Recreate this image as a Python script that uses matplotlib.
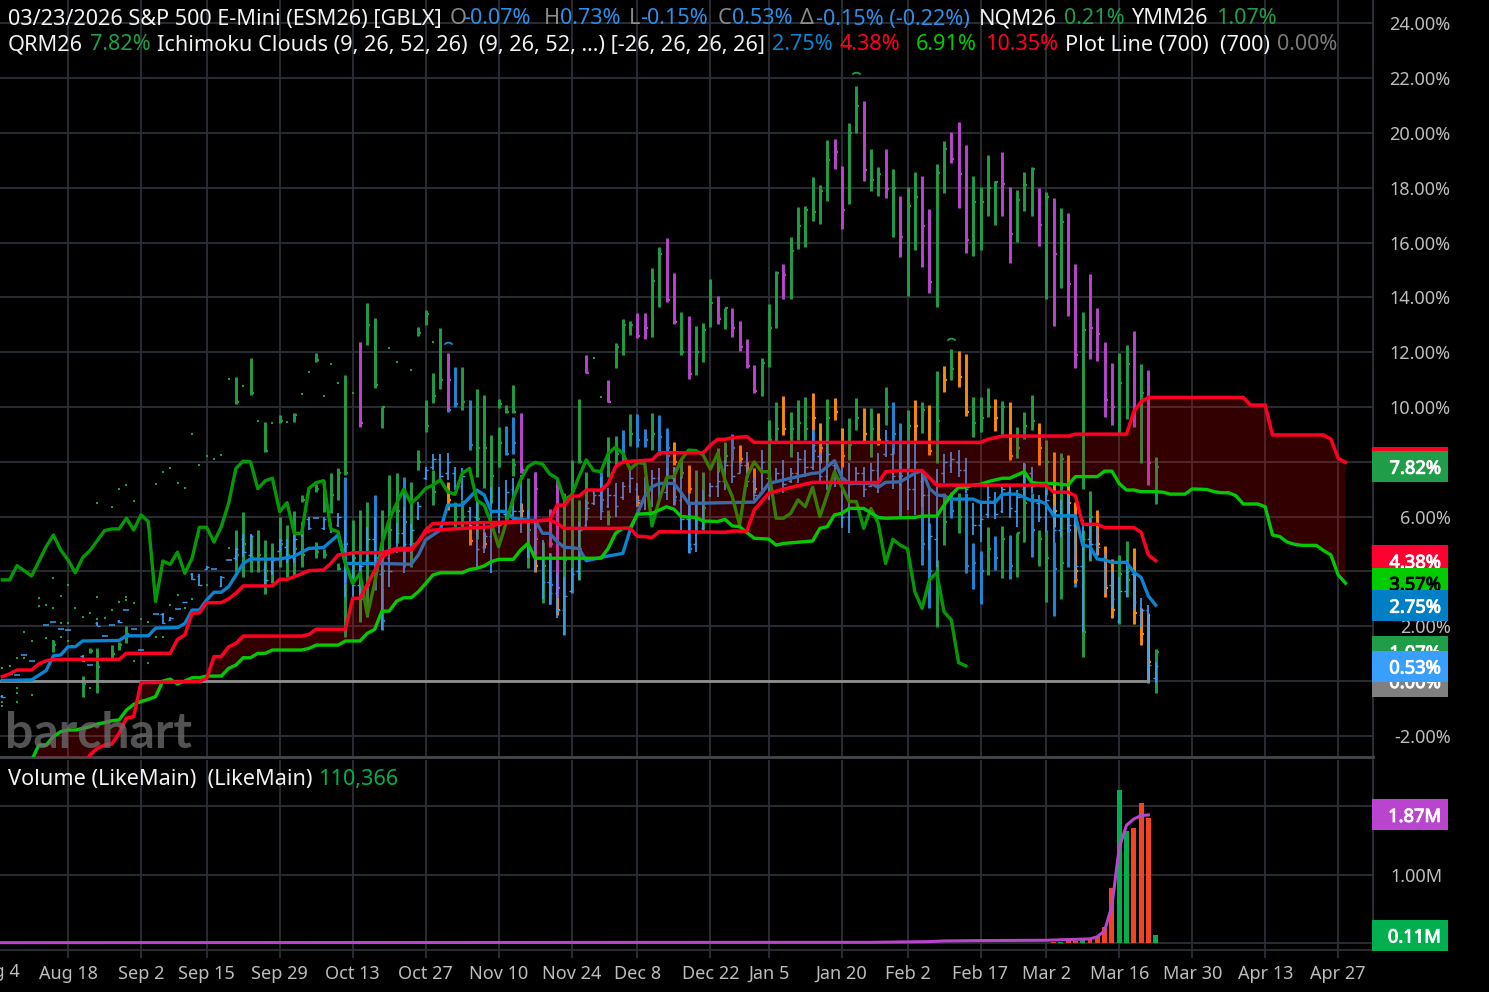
import matplotlib
matplotlib.use("Agg")
import matplotlib.pyplot as plt
import matplotlib.patheffects as pe
from matplotlib.patches import Rectangle
from matplotlib.path import Path
from matplotlib.transforms import blended_transform_factory

plt.rcParams['font.family'] = ['Noto Sans', 'DejaVu Sans']

# x axis = trading bar number, Aug 18 is bar 0
date_ticks = [0, 10, 19, 29, 39, 49, 59, 69, 78, 88, 96, 106, 115, 125, 134, 144, 154, 164, 174]
date_labels = ['Aug 18', 'Sep 2', 'Sep 15', 'Sep 29', 'Oct 13', 'Oct 27', 'Nov 10', 'Nov 24', 'Dec 8', 'Dec 22',
               'Jan 5', 'Jan 20', 'Feb 2', 'Feb 17', 'Mar 2', 'Mar 16', 'Mar 30', 'Apr 13', 'Apr 27']
pct_ticks = [-2, 0, 2, 4, 6, 8, 10, 12, 14, 16, 18, 20, 22, 24]
pct_hidden = [0, 4, 8]  # these sit behind the value tags

# bars as (bar, high, low, close)
green_bars = [
    (-2, 1.50, 1.07, 1.3), (2, .18, -.57, -.1), (3, 1.19, 1.03, 1.1), (4, 1.22, -.43, .5), (6, 1.31, .83, 1.0),
    (7, 1.44, 1.13, 1.3), (8, 2.0, 1.37, 1.7), (23, 11.08, 10.10, 10.2), (25, 11.78, 10.44, 10.5),
    (27, 9.46, 8.37, 8.4), (29, 9.71, 9.40, 9.5), (31, 9.77, 9.46, 9.7), (34, 11.96, 11.65, 11.7),
    (23, 5.51, 3.99, 4.6), (24, 6.16, 3.81, 5.0), (25, 5.33, 3.99, 4.5), (26, 5.5, 3.99, 4.6), (27, 5.15, 3.18, 4.0),
    (28, 5.02, 3.56, 4.4), (29, 6.0, 4.17, 5.0), (30, 5.69, 3.81, 4.6), (31, 6.22, 3.87, 4.8), (32, 6.79, 6.55, 6.6),
    (32, 5.5, 4.17, 4.6), (34, 7.2, 6.9, 7.0), (34, 5.08, 4.5, 4.7), (35, 7.3, 6.15, 6.6), (35, 4.8, 4.5, 4.6),
    (36, 7.58, 6.12, 6.8), (37, 7.76, 6.6, 7.6), (37, 4.29, 4.04, 4.1), (38, 11.17, 7.52, 7.6), (38, 3.56, 1.62, 2.0),
    (39, 5.88, 3.56, 4.5), (40, 6.24, 2.17, 3.0), (41, 13.78, 12.26, 13.0), (41, 6.55, 2.35, 3.5),
    (42, 13.24, 10.68, 10.8), (43, 10.01, 9.22, 10.0), (43, 6.24, 3.44, 4.0), (44, 7.52, 4.66, 5.5),
    (45, 7.58, 5.02, 6.2), (47, 7.27, 4.17, 5.0), (48, 12.93, 12.59, 12.7), (48, 8.43, 7.70, 8.0),
    (49, 13.54, 12.99, 13.4), (49, 10.26, 9.10, 9.3), (50, 11.23, 10.13, 10.4), (50, 7.70, 6.42, 6.9),
    (51, 12.87, 10.64, 11.0), (53, 6.55, 5.63, 6.0), (54, 11.47, 9.89, 10.2), (54, 6.6, 5.63, 6.0),
    (56, 10.64, 7.46, 8.5), (56, 6.6, 5.2, 5.9), (57, 10.44, 7.03, 8.5), (58, 8.98, 6.48, 7.5), (59, 10.3, 9.95, 10.1),
    (59, 9.28, 7.82, 8.7), (60, 10.07, 9.77, 9.8), (61, 10.80, 9.77, 9.8), (61, 8.13, 7.47, 7.9), (63, 7.40, 4.14, 5.5),
    (65, 5.09, 2.86, 4.2), (68, 6.85, 1.68, 4.4), (69, 8.07, 3.2, 4.8), (70, 10.29, 7.94, 8.0), (70, 6.6, 3.69, 4.8),
    (71, 7.64, 5.88, 6.5), (74, 8.89, 7.46, 8.0), (74, 6.24, 5.69, 6.0), (75, 8.94, 7.88, 8.3), (75, 12.32, 11.41, 12.2),
    (76, 13.20, 11.90, 13.0), (77, 13.15, 12.63, 13.0), (77, 9.73, 8.59, 9.0), (80, 15.06, 12.57, 14.6),
    (80, 9.77, 8.43, 9.0), (81, 15.83, 13.64, 15.6), (82, 9.04, 7.46, 8.2), (84, 13.48, 11.90, 12.0), (84, 8.13, 7.4, 7.6),
    (86, 12.96, 11.17, 12.0), (86, 7.7, 5.4, 6.5), (87, 13.08, 11.63, 12.8), (87, 7.64, 5.5, 6.3),
    (88, 14.66, 12.91, 13.8), (89, 8.49, 7.64, 8.0), (90, 13.63, 12.83, 13.6), (90, 8.73, 7.94, 8.2),
    (95, 11.78, 10.41, 11.6), (96, 13.76, 11.47, 12.9), (96, 9.53, 7.46, 8.8), (97, 14.98, 12.90, 14.9),
    (97, 10.19, 8.67, 9.2), (99, 16.19, 13.95, 15.7), (99, 9.83, 8.19, 9.2), (100, 17.29, 15.75, 16.6),
    (100, 10.25, 8.80, 9.4), (101, 17.34, 15.83, 17.2), (101, 10.38, 8.80, 9.2), (102, 18.41, 16.80, 17.1),
    (103, 18.09, 16.68, 17.9), (104, 19.74, 17.52, 19.0), (104, 10.28, 8.0, 9.6), (107, 20.35, 17.40, 20.0),
    (107, 9.59, 8.07, 8.6), (108, 21.73, 19.99, 21.0), (108, 10.32, 9.16, 9.6), (110, 19.42, 17.89, 18.3),
    (110, 9.95, 8.19, 9.2), (111, 18.77, 17.71, 18.5), (112, 10.74, 9.34, 10.0), (113, 18.69, 16.22, 18.0),
    (115, 18.02, 14.06, 17.35), (115, 9.89, 7.76, 9.3), (116, 18.59, 15.73, 17.65), (117, 10.19, 9.04, 9.9),
    (119, 18.86, 13.66, 18.55), (119, 11.31, 7.94, 9.5), (119, 4.42, 1.98, 3.5), (120, 19.71, 17.80, 19.4),
    (120, 6.85, 4.96, 5.8), (121, 12.1, 10.98, 11.4), (122, 6.85, 5.39, 6.0), (124, 18.44, 15.52, 17.5),
    (124, 10.35, 8.92, 9.4), (125, 18.04, 15.73, 17.5), (125, 10.35, 9.10, 9.6), (126, 19.20, 16.97, 18.0),
    (126, 10.68, 9.65, 10.0), (126, 5.63, 3.87, 4.8), (127, 18.25, 16.64, 18.2), (128, 10.23, 8.98, 10.0),
    (128, 5.66, 3.75, 5.2), (130, 17.92, 16.03, 17.55), (130, 9.28, 8.13, 8.5), (130, 5.41, 3.81, 5.4),
    (131, 18.56, 17.17, 18.1), (131, 9.81, 8.83, 9.3), (131, 7.94, 5.09, 6.5), (132, 18.77, 16.97, 18.7),
    (132, 10.44, 9.16, 9.5), (133, 5.51, 4.20, 5.2), (134, 17.86, 13.93, 17.65), (134, 8.80, 6.79, 8.0),
    (134, 5.51, 2.90, 4.5), (136, 17.25, 14.35, 16.75), (136, 8.33, 5.5, 8.1), (136, 5.51, 2.99, 4.3),
    (139, 13.45, 7.0, 12.8), (139, 5.5, 0.89, 1.8), (140, 6.93, 4.38, 6.0), (144, 11.96, 9.06, 10.86),
    (144, 4.60, 2.07, 3.9), (145, 12.25, 9.55, 11.57), (145, 5.12, 3.08, 3.7), (147, 11.56, 7.97, 10.50),
    (149, 8.19, 6.45, 7.82), (149, 1.16, -.43, 1.07),
]
purple_bars = [
    (40, 12.38, 9.28, 9.4), (52, 11.96, 9.89, 11.0), (62, 9.77, 7.58, 7.7), (64, 7.64, 4.48, 5.2), (66, 6.27, 4.9, 5.0),
    (67, 7.34, 3.08, 3.4), (71, 11.90, 11.23, 11.25), (74, 10.99, 10.19, 10.2), (78, 13.42, 12.51, 12.6),
    (79, 13.42, 12.47, 12.9), (82, 16.16, 13.84, 13.9), (83, 14.88, 13.02, 13.1), (85, 13.33, 11.02, 11.2),
    (89, 14.06, 13.03, 13.2), (91, 13.63, 12.54, 12.9), (92, 13.15, 12.06, 12.2), (93, 12.48, 11.41, 11.5),
    (94, 11.53, 10.52, 10.6), (98, 15.21, 13.95, 14.8), (105, 19.77, 18.69, 19.3), (106, 18.80, 16.51, 17.2),
    (109, 21.18, 18.26, 18.65), (112, 19.42, 17.62, 17.95), (114, 17.70, 15.49, 16.2), (117, 18.43, 15.10, 16.6),
    (118, 17.21, 14.15, 14.55), (121, 20.05, 18.89, 19.05), (122, 20.41, 17.25, 18.5), (123, 19.55, 15.61, 16.1),
    (128, 19.32, 16.97, 18.15), (129, 18.02, 15.27, 16.3), (133, 17.99, 15.89, 16.65), (135, 17.62, 12.97, 15.6),
    (137, 17.07, 13.33, 14.5), (138, 15.21, 11.41, 11.9), (140, 14.85, 11.75, 12.9), (141, 13.60, 11.68, 12.65),
    (142, 12.38, 9.65, 10.25), (143, 11.62, 9.34, 10.0), (146, 12.77, 9.26, 10.0), (148, 11.35, 7.15, 7.97),
]
orange_bars = [
    (52, 7.27, 6.24, 6.6), (55, 5.69, 4.96, 5.1), (57, 5.45, 4.84, 5.0), (62, 6.5, 6.0, 6.2), (64, 4.5, 3.99, 4.2),
    (67, 3.08, 2.4, 2.6), (78, 6.8, 6.4, 6.5), (83, 8.73, 7.9, 8.0), (85, 7.9, 6.85, 7.0), (92, 8.6, 7.94, 8.1),
    (93, 8.0, 7.46, 7.6), (94, 7.76, 6.85, 7.0), (98, 10.41, 8.98, 9.2), (102, 10.50, 9.16, 9.6), (103, 9.43, 7.94, 8.5),
    (105, 10.32, 9.53, 9.8), (106, 9.22, 7.82, 8.2), (109, 9.95, 8.67, 9.0), (111, 9.79, 8.61, 8.8),
    (116, 10.26, 8.67, 9.3), (118, 10.07, 8.25, 8.4), (120, 11.50, 10.56, 11.0), (122, 12.04, 10.74, 11.1),
    (123, 11.92, 9.67, 9.8), (127, 10.28, 9.12, 9.6), (129, 10.19, 8.07, 8.2), (133, 9.40, 7.88, 8.5),
    (135, 8.37, 5.63, 6.2), (137, 8.25, 6.1, 6.5), (138, 6.55, 3.56, 4.0), (141, 6.24, 4.60, 5.0), (142, 4.93, 3.08, 3.4),
    (143, 4.45, 2.29, 2.6), (146, 4.84, 2.07, 2.5), (147, 2.65, 1.31, 1.7), (148, 2.47, -.09, .7),
]
blue_bars = [
    (38, 7.46, 3.56, 5.0), (42, 6.79, 3.32, 4.5), (43, 3.44, 1.86, 2.2), (46, 7.46, 4.17, 5.8), (52, 10.4, 9.82, 9.9),
    (53, 11.47, 10.01, 10.1), (55, 10.26, 8.43, 8.6), (60, 9.29, 8.26, 8.3), (61, 9.62, 8.28, 8.7), (64, 7.64, 6.84, 7.0),
    (66, 4.66, 2.81, 3.5), (73, 7.61, 6.24, 6.6), (76, 9.16, 7.94, 8.2), (78, 9.73, 8.53, 8.8), (79, 9.19, 8.55, 8.8),
    (81, 9.71, 8.25, 8.9), (82, 9.22, 7.46, 8.5), (83, 7.82, 6.42, 6.7), (85, 6.48, 4.66, 4.8), (91, 9.0, 8.07, 8.5),
    (102, 9.16, 8.0, 8.4), (113, 10.2, 8.3, 9.0), (114, 9.4, 6.0, 7.5), (117, 7.70, 4.23, 5.0), (118, 5.75, 2.65, 4.0),
    (121, 6.9, 5.94, 6.2), (123, 6.85, 3.93, 4.2), (124, 5.05, 3.35, 4.3), (125, 4.76, 2.81, 4.0), (127, 5.30, 4.05, 4.5),
    (129, 5.33, 3.72, 4.2), (132, 6.85, 4.54, 5.5), (135, 5.09, 2.37, 4.1), (137, 6.85, 4.17, 5.5), (138, 4.17, 3.42, 3.7),
]
# thin main contract bars: (bar, high, low, open, close)
es_bars = [
    (-9, -.5, -.63, -.55, -.58), (2, .95, .7, .9, .72), (4, 2.14, 2.0, 2.1, 2.02), (7, 2.22, 2.12, 2.2, 2.14),
    (13, 2.49, 2.08, 2.45, 2.12), (14, 2.35, 2.2, 2.22, 2.3), (16, 2.9, 2.85, 2.87, 2.88), (17, 3.93, 3.69, 3.9, 3.72),
    (18, 3.9, 3.47, 3.85, 3.5), (19, 4.2, 4.07, 4.1, 4.17), (21, 3.83, 3.42, 3.45, 3.8), (23, 4.84, 4.42, 4.5, 4.8),
    (24, 5.35, 4.54, 5.2, 4.7), (25, 5.35, 4.54, 4.6, 5.3), (27, 4.29, 3.5, 4.1, 3.7), (28, 4.54, 3.87, 4.0, 4.4),
    (29, 5.2, 4.72, 4.75, 5.15), (30, 5.2, 4.29, 4.9, 4.5), (31, 5.33, 4.29, 4.5, 5.2), (32, 5.82, 5.27, 5.4, 5.7),
    (33, 6.0, 5.51, 5.9, 5.6), (35, 6.0, 5.51, 5.6, 5.9), (36, 5.78, 5.4, 5.7, 5.5), (37, 6.12, 5.63, 5.7, 6.0),
    (38, 5.88, 3.08, 5.0, 4.3), (39, 4.62, 2.96, 4.3, 3.5), (40, 4.29, 2.96, 3.5, 4.2), (41, 5.63, 4.29, 4.4, 5.2),
    (42, 6.0, 3.56, 5.2, 3.9), (43, 4.78, 1.86, 3.9, 4.5), (44, 4.84, 3.44, 4.5, 4.0), (45, 5.75, 4.66, 4.8, 5.4),
    (46, 6.36, 3.93, 5.4, 5.0), (47, 5.73, 4.66, 5.0, 5.5), (48, 6.55, 5.88, 6.0, 6.4), (49, 7.82, 7.34, 7.4, 7.7),
    (50, 8.28, 7.70, 7.8, 8.1), (51, 8.28, 7.34, 8.1, 7.5), (52, 8.33, 7.34, 7.6, 8.0), (53, 7.82, 6.97, 7.6, 7.1),
    (54, 7.76, 6.6, 7.1, 7.5), (55, 6.36, 5.51, 6.2, 5.7), (56, 6.6, 4.17, 6.0, 4.8), (57, 5.75, 4.66, 4.9, 5.3),
    (58, 7.09, 3.93, 5.3, 6.2), (59, 7.09, 5.39, 6.2, 5.7), (60, 7.34, 5.88, 6.1, 6.9), (61, 7.40, 5.88, 7.0, 6.2),
    (62, 7.52, 5.39, 6.2, 5.8), (63, 6.24, 4.48, 5.8, 4.9), (64, 5.88, 3.99, 4.9, 4.5), (65, 5.15, 3.0, 4.5, 3.6),
    (66, 4.66, 2.77, 3.6, 3.2), (67, 3.9, 2.29, 3.2, 2.6), (68, 3.8, 1.68, 2.6, 3.1), (69, 4.11, 3.2, 3.3, 3.9),
    (70, 5.82, 3.69, 4.0, 5.5), (71, 6.61, 5.57, 5.7, 6.3), (72, 6.97, 6.42, 6.5, 6.8), (73, 7.46, 5.88, 6.8, 6.2),
    (74, 7.03, 6.30, 6.4, 6.8), (75, 7.21, 6.0, 6.8, 6.4), (76, 7.27, 6.61, 6.7, 7.1), (77, 7.70, 6.85, 7.1, 7.4),
    (78, 7.21, 6.36, 7.0, 6.6), (79, 7.46, 6.24, 6.6, 7.1), (80, 7.70, 6.36, 7.1, 7.4), (81, 7.76, 6.61, 7.4, 6.9),
    (82, 7.76, 6.61, 6.9, 7.4), (83, 7.82, 6.42, 7.4, 6.6), (84, 7.46, 5.51, 6.6, 5.9), (85, 6.85, 4.66, 5.9, 5.0),
    (86, 6.61, 4.72, 5.0, 5.4), (87, 6.97, 5.51, 5.6, 6.5), (88, 7.21, 6.73, 6.8, 7.1), (89, 7.64, 6.73, 7.1, 7.3),
    (90, 8.07, 6.97, 7.3, 7.9), (91, 8.07, 7.21, 7.9, 7.5), (92, 8.0, 7.58, 7.6, 7.9), (93, 8.37, 7.09, 7.9, 7.3),
    (94, 7.46, 6.61, 7.3, 6.8), (95, 8.43, 6.85, 6.9, 8.0), (96, 7.64, 6.61, 7.4, 7.0), (97, 7.76, 7.21, 7.3, 7.6),
    (98, 8.07, 6.85, 7.6, 7.2), (99, 7.76, 7.21, 7.3, 7.6), (100, 8.37, 7.21, 7.6, 8.1), (101, 8.43, 7.46, 8.1, 7.8),
    (102, 9.16, 7.70, 7.8, 8.6), (103, 8.31, 7.21, 8.2, 7.5), (104, 8.80, 6.97, 7.5, 8.3), (105, 8.07, 7.09, 7.9, 7.4),
    (106, 7.82, 5.57, 7.4, 6.0), (107, 7.94, 5.39, 6.0, 7.2), (108, 7.82, 7.21, 7.3, 7.6), (109, 7.82, 6.73, 7.6, 7.0),
    (110, 7.94, 7.09, 7.1, 7.7), (111, 8.31, 6.85, 7.7, 7.3), (112, 9.16, 8.19, 8.3, 8.8), (113, 8.5, 7.0, 8.3, 7.5),
    (114, 8.0, 7.1, 7.5, 7.7), (115, 8.67, 6.24, 7.7, 7.0), (116, 8.70, 6.06, 7.0, 8.0), (117, 7.70, 6.36, 7.3, 6.8),
    (118, 7.03, 4.78, 6.8, 5.3), (119, 7.73, 4.17, 5.2, 7.2), (120, 8.28, 7.21, 7.6, 8.0), (121, 8.37, 7.58, 7.9, 8.1),
    (122, 8.43, 7.46, 8.0, 7.7), (123, 8.13, 6.85, 7.7, 7.0), (124, 6.48, 5.33, 6.0, 5.7), (125, 6.48, 5.09, 5.7, 5.9),
    (126, 7.15, 5.94, 6.1, 6.7), (127, 6.91, 5.90, 6.6, 6.1), (128, 7.19, 6.12, 6.2, 7.0), (129, 7.15, 5.94, 6.9, 6.3),
    (130, 6.97, 5.63, 6.2, 6.7), (131, 7.97, 6.73, 7.0, 7.6), (132, 7.80, 6.85, 7.6, 7.1), (133, 6.79, 5.81, 6.5, 6.0),
    (134, 6.97, 5.45, 6.0, 6.6), (135, 6.42, 5.02, 6.2, 5.5), (136, 6.61, 5.27, 5.5, 6.1), (137, 6.79, 5.45, 6.1, 5.7),
    (138, 6.0, 3.69, 5.7, 4.2), (139, 5.88, 1.80, 4.2, 5.2), (140, 5.94, 4.42, 5.2, 5.0), (141, 5.63, 4.42, 5.0, 4.9),
    (142, 4.66, 3.20, 4.5, 3.5), (143, 3.99, 2.71, 3.5, 3.0), (144, 3.81, 2.10, 2.2, 3.3), (145, 4.42, 3.08, 3.3, 4.0),
    (146, 3.99, 2.59, 3.9, 2.9), (147, 3.02, 1.98, 2.4, 2.6), (148, 2.77, -.02, 2.6, .6), (149, .71, -.09, .1, .53),
]
# flat bars early on, only one price traded
green_dots = [
    (-9, .49), (-9, -.75), (-9, -.91), (-8, .56), (-7, .83), (-7, -.27), (-7, -.45), (-7, -.75), (-6, 1.78), (-6, .83),
    (-5, 1.47), (-5, -.51), (-4, 3.02), (-4, 2.74), (-3, 2.77), (-3, 1.56), (-2, 3.75), (-2, 2.68), (-2, 1.47),
    (-1, 3.11), (-1, 2.1), (-1, 1.59), (0, 3.5), (0, 2.1), (0, 1.47), (1, 2.65), (2, 2.35), (3, 2.49), (3, -.27),
    (4, 6.51), (4, 3.08), (4, 2.26), (5, 2.29), (6, 6.36), (6, 2.59), (7, 7.0), (7, 2.9), (8, 7.14), (8, 3.08), (8, 2.96),
    (9, 6.57), (9, 2.83), (9, .73), (10, 2.26), (11, 2.17), (11, .64), (12, 7.19), (12, 1.62), (13, 7.62), (13, 1.62),
    (14, 7.79), (14, 2.77), (15, 7.24), (15, 3.14), (16, 7.03), (16, 2.65), (17, 9.01), (17, 2.98), (18, 7.88),
    (19, 8.21), (19, 3.5), (20, 8.09), (21, 8.25), (22, 11.03), (22, 4.84), (24, 10.78), (26, 9.49), (28, 9.43), (30, 9.46),
    (32, 10.46), (33, 11.27), (35, 10.40), (36, 11.57), (37, 10.86), (39, 10.52), (44, 12.17), (45, 11.65),
    (47, 11.35), (50, 12.38), (72, 11.78), (73, 10.35),
]
es_dots = [
    (-8, .25), (-7, .21), (-6, .96), (-5, .73), (-3, 2.03), (-2, 2.16), (-1, 1.88), (0, 1.86), (3, .58), (5, 1.64), (6, 2.06),
    (8, 2.59), (9, 1.89), (10, 1.13), (12, 2.46), (15, 2.64), (20, 4.07), (22, 4.41), (34, 5.96),
]
arc_bars = [52, 108, 121]
arc_vals = [12.2, 22.05, 12.35]
arc_colors = ['#1e88d8', '#1f9e46', '#1f9e46']

conv_x = [-9, -5, -3, -2, -1, 0, 1, 2, 7, 8, 11, 12, 15, 16, 17, 18, 19, 20, 21, 22, 24, 25, 29, 31, 33, 35, 37, 38, 43, 47,
          48, 49, 51, 52, 54, 56, 57, 58, 59, 60, 61, 62, 63, 64, 65, 66, 67, 68, 69, 70, 71, 73, 76, 77, 78, 79, 80, 81,
          83, 84, 85, 94, 95, 96, 98, 100, 102, 103, 105, 106, 107, 110, 111, 112, 114, 116, 117, 118, 119, 120, 121,
          123, 124, 125, 127, 128, 130, 131, 132, 133, 134, 135, 138, 139, 140, 141, 142, 143, 145, 146, 147, 148, 149]
conv_y = [.02, .04, .38, .92, .95, 1.25, 1.25, 1.46, 1.48, 1.65, 1.65, 1.93, 1.95, 2.10, 2.59, 2.59, 2.96, 3.24, 3.24, 3.44,
          4.29, 4.45, 4.45, 4.56, 4.84, 4.87, 5.33, 4.29, 4.29, 4.26, 4.6, 5.15, 5.51, 6.42, 6.42, 6.97, 6.79, 6.18, 6.2,
          6.18, 5.94, 5.9, 5.87, 5.87, 5.39, 5.39, 5.09, 4.87, 4.87, 4.83, 4.39, 4.51, 4.66, 5.51, 6.12, 6.73, 7.09, 7.21,
          7.21, 6.87, 6.48, 6.53, 6.85, 7.21, 7.34, 7.46, 7.58, 7.60, 8.04, 7.43, 7.21, 7.21, 7.07, 7.25, 7.27, 7.58, 7.68,
          7.03, 6.79, 6.76, 6.64, 6.64, 6.64, 6.52, 6.52, 6.82, 6.82, 6.70, 6.58, 6.58, 6.46, 6.03, 6.03, 4.96, 4.90, 4.45,
          4.42, 4.33, 4.33, 3.97, 3.78, 3.10, 2.77]
base_x = [-9, -8, -7, -5, -4, -3, -2, 7, 8, 14, 15, 16, 17, 18, 19, 21, 22, 23, 24, 28, 29, 30, 31, 32, 33, 35, 36, 37, 38, 39,
          43, 45, 47, 48, 49, 50, 59, 66, 67, 68, 77, 78, 80, 81, 90, 91, 93, 94, 96, 98, 102, 111, 112, 114, 117, 119, 134,
          135, 137, 138, 139, 141, 142, 146, 147, 148, 149]
base_y = [.16, .26, .40, .40, .62, .74, .79, .79, 1.01, 1.01, 1.52, 1.68, 2.47, 2.49, 2.86, 2.86, 3.0, 3.2, 3.47, 3.47, 3.71, 3.71,
          3.81, 3.91, 4.03, 4.05, 4.29, 4.60, 4.62, 4.68, 4.68, 4.84, 4.84, 5.09, 5.51, 5.75, 5.79, 5.88, 5.75, 5.57, 5.57, 5.29,
          5.24, 5.45, 5.43, 5.47, 5.47, 6.24, 6.85, 7.0, 7.25, 7.24, 7.64, 7.68, 7.68, 7.15, 7.15, 6.89, 6.89, 6.76, 5.72, 5.72,
          5.60, 5.60, 5.43, 4.60, 4.39]
lag_y = [3.69, 3.69, 4.21, 4.03, 3.83, 4.36, 4.90, 5.33, 4.78, 4.42, 3.95, 4.50, 4.76, 5.12, 5.49, 5.55, 5.55, 5.94, 5.51, 6.06,
         5.82, 2.90, 4.38, 4.26, 4.70, 3.93, 4.48, 5.61, 5.61, 5.07, 5.63, 6.48, 7.76, 8.02, 8.00, 7.02, 7.30, 7.40, 6.18, 6.51,
         5.39, 5.39, 7.03, 7.24, 7.31, 5.54, 5.45, 4.29, 3.56, 3.93, 2.41, 3.56, 5.02, 5.88, 6.48, 7.0, 6.48, 6.73, 7.03, 7.15,
         7.34, 6.91, 6.81, 7.58, 7.76, 6.6, 6.42, 5.75, 4.90, 5.75, 6.67, 7.34, 7.82, 7.98, 7.92, 7.55, 7.40, 6.61, 6.79, 7.46,
         8.07, 7.68, 7.64, 8.31, 8.53, 8.31, 7.73, 7.97, 7.94, 5.66, 6.61, 7.43, 7.46, 8.07, 8.43, 8.41, 8.25, 7.73, 8.31, 7.34,
         6.73, 5.69, 7.46, 8.0, 7.64, 7.64, 5.94, 5.94, 6.12, 6.61, 6.36, 7.07, 6.0, 6.79, 7.64, 7.09, 6.55, 6.55, 5.57, 6.30,
         5.75, 4.29, 5.17, 4.96, 4.82, 3.26, 2.65, 3.69, 3.95, 2.53, 2.23, .67, .55]
span_a_x = [-5, -4, -3, -2, -1, 0, 1, 2, 3, 4, 5, 6, 7, 8, 9, 10, 11, 12, 13, 14, 15, 16, 17, 18, 19, 21, 22, 23, 24, 25, 26, 27,
            28, 32, 33, 34, 37, 38, 40, 41, 42, 43, 44, 45, 46, 47, 48, 49, 50, 51, 54, 55, 56, 57, 58, 59, 61, 62, 63, 64, 73,
            74, 75, 76, 77, 78, 80, 81, 82, 83, 84, 86, 87, 89, 90, 91, 92, 94, 96, 97, 98, 102, 103, 104, 105, 106, 107, 109,
            111, 112, 116, 117, 119, 120, 121, 122, 123, 124, 125, 126, 127, 128, 129, 130, 131, 132, 133, 135, 137, 138, 141,
            142, 143, 144, 145, 146, 147, 149, 150, 151, 153, 154, 156, 157, 158, 159, 160, 161, 163, 164, 165, 166, 167, 168,
            169, 171, 172, 173, 174, 175]
span_a_y = [-2.9, -2.34, -2.34, -2.03, -1.85, -1.79, -1.79, -1.73, -1.67, -1.57, -1.52, -1.45, -1.42, -1.06, -.85, -.75, -.67, -.57,
            0.0, .07, -.11, 0.0, .12, .12, .18, .18, .46, .58, .85, .85, 1.01, 1.01, 1.13, 1.13, 1.19, 1.31, 1.31, 1.46, 1.46,
            1.74, 1.88, 2.55, 2.55, 2.91, 3.04, 3.04, 3.26, 3.56, 3.87, 3.95, 3.95, 4.07, 4.11, 4.20, 4.36, 4.44, 4.44, 4.78, 5.02,
            4.48, 4.48, 4.84, 5.39, 5.57, 5.57, 6.09, 6.12, 6.24, 6.36, 6.27, 6.0, 5.97, 5.84, 5.82, 5.90, 5.66, 5.63, 5.21, 5.18,
            4.96, 5.02, 5.11, 5.57, 5.63, 6.06, 6.12, 6.30, 6.30, 5.97, 5.94, 5.97, 6.02, 6.02, 6.42, 6.79, 7.07, 7.07, 7.15, 7.18,
            7.27, 7.34, 7.40, 7.40, 7.52, 7.64, 7.25, 7.21, 7.21, 7.15, 7.46, 7.46, 7.66, 7.66, 7.21, 6.97, 6.97, 6.91, 6.91, 6.89,
            6.82, 6.82, 7.01, 6.99, 6.91, 6.87, 6.87, 6.76, 6.46, 6.46, 6.36, 5.33, 5.27, 5.07, 4.99, 4.95, 4.95, 4.76, 4.60, 3.87,
            3.57]
span_b_x = [-5, 2, 3, 4, 5, 6, 7, 8, 9, 10, 18, 19, 20, 21, 22, 23, 24, 32, 33, 34, 38, 39, 40, 43, 44, 45, 47, 48, 49, 50, 58, 59,
            66, 67, 68, 69, 70, 71, 73, 74, 75, 76, 80, 81, 87, 88, 89, 90, 91, 93, 94, 125, 126, 128, 137, 138, 145, 146, 147,
            148, 161, 162, 164, 165, 172, 173, 174, 175]
span_b_y = [-3.3, -3.2, -2.7, -2.46, -2.34, -2.3, -1.91, -1.36, -1.30, -.06, -.02, .10, .89, .89, 1.25, 1.37, 1.64, 1.64, 1.70, 1.89,
            1.89, 3.02, 3.02, 4.54, 4.68, 4.78, 4.78, 5.09, 5.45, 5.51, 5.63, 5.75, 5.88, 6.42, 6.42, 6.75, 6.75, 6.97, 6.97, 7.21,
            7.82, 8.0, 8.07, 8.33, 8.33, 8.61, 8.82, 8.82, 8.88, 8.92, 8.71, 8.71, 8.82, 8.94, 8.94, 9.01, 9.01, 9.83, 10.19, 10.35,
            10.35, 10.07, 10.07, 8.98, 8.98, 8.83, 8.13, 7.98]
plot_line_x = [-10, 148]
plot_line_y = [0, 0]

# volume, millions
vol_up_x = [136, 139, 144, 145, 149]
vol_up = [.015, .06, 2.24, 1.64, .11]
vol_down_x = [135, 137, 138, 140, 141, 142, 143, 146, 147, 148]
vol_down = [.02, .035, .03, .05, .09, .23, .80, 1.68, 2.04, 1.83]
vol_avg_x = [-10, 110, 118, 120, 125, 134, 140, 141, 142, 143, 144, 145, 146, 147, 148]
vol_avg = [.005, .01, .02, .03, .035, .04, .06, .09, .18, .54, 1.39, 1.72, 1.81, 1.86, 1.87]

GREEN = '#1f9e46'
PURPLE = '#b845cc'
ORANGE = '#f98c06'
BLUE = '#1e88d8'
ES_BLUE = '#3a9df0'
GRID = '#2b3037'
TICK_TXT = '#bdbdbd'

W, H = 1489, 992
fig = plt.figure(figsize=(W / 100, H / 100), dpi=100, facecolor='black')
ax = fig.add_axes([0, 1 - 757 / H, 1373 / W, 757 / H], facecolor='black')
vol = fig.add_axes([0, 1 - 950 / H, 1373 / W, 190 / H], facecolor='black')
x_lim = (-68 / 7.3, 1305 / 7.3)
ax.set_xlim(*x_lim)
vol.set_xlim(*x_lim)
ax.set_ylim((681 - 757) / 27.4, 681 / 27.4)
vol.set_ylim(-7 / 68.5, 183 / 68.5)


def draw_bars(rows, color, lw=2.1):
    xs = [r[0] for r in rows]
    ax.vlines(xs, [r[2] for r in rows], [r[1] for r in rows], colors=color, lw=lw, zorder=2, capstyle='butt')
    ax.hlines([r[3] for r in rows], xs, [x + .42 for x in xs], colors=color, lw=1.6, zorder=2)


draw_bars(green_bars, GREEN)
draw_bars(blue_bars, BLUE)
draw_bars(purple_bars, PURPLE)
draw_bars(orange_bars, ORANGE)
ax.scatter([d[0] for d in green_dots], [d[1] for d in green_dots], marker='s', s=3.5, color=GREEN, lw=0, zorder=2)
ax.scatter([d[0] for d in es_dots], [d[1] for d in es_dots], marker='_', s=22, color=ES_BLUE, lw=1.1, zorder=2.2)

es_x = [r[0] for r in es_bars]
ax.vlines(es_x, [r[2] for r in es_bars], [r[1] for r in es_bars], colors=ES_BLUE, lw=1.25, zorder=2.2)
ax.hlines([r[3] for r in es_bars], [x - .35 for x in es_x], es_x, colors=ES_BLUE, lw=1.0, zorder=2.2)
ax.hlines([r[4] for r in es_bars], es_x, [x + .35 for x in es_x], colors=ES_BLUE, lw=1.0, zorder=2.2)

arc = Path.arc(35, 145)
for b, v, c in zip(arc_bars, arc_vals, arc_colors):
    ax.plot([b], [v], marker=arc, ms=7, mfc='none', mec=c, mew=1.3, zorder=2.3, ls='none')

ax.plot(plot_line_x, plot_line_y, color='#8f8f8f', lw=2, zorder=3)
ax.plot(conv_x, conv_y, color='#0a85d1', lw=2.4, zorder=3, solid_joinstyle='round')
ax.plot(range(-9, -9 + len(lag_y)), lag_y, color='#059a05', lw=2.4, zorder=3, solid_joinstyle='round')

# cloud sits over the bars and dims them
ax.fill(list(span_b_x) + span_a_x[::-1], list(span_b_y) + span_a_y[::-1], color='#ff0000', alpha=.2, lw=0, zorder=4)
ax.plot(span_a_x, span_a_y, color='#05c805', lw=2.4, zorder=5, solid_joinstyle='round')
ax.plot(base_x, base_y, color='#ff0022', lw=2.5, zorder=5, solid_joinstyle='round')
ax.plot(span_b_x, span_b_y, color='#ff0022', lw=2.5, zorder=5, solid_joinstyle='round')

for a in (ax, vol):
    a.set_xticks(date_ticks)
    a.set_axisbelow(True)
    a.grid(True, color=GRID, lw=1.3)
    a.tick_params(left=False, bottom=False, right=False, labelleft=False, labelbottom=False)
    a.yaxis.tick_right()
    for s in ['top', 'left']:
        a.spines[s].set_visible(False)
    a.spines['right'].set_color('#30353b')
    a.spines['right'].set_linewidth(1.3)
ax.spines['bottom'].set_color('#44484e')
ax.spines['bottom'].set_linewidth(2)
vol.spines['bottom'].set_color(GRID)
vol.spines['bottom'].set_linewidth(1.3)

ax.set_yticks(pct_ticks)
ax.set_yticklabels(['' if t in pct_hidden else '%.2f%%' % t for t in pct_ticks])
ax.tick_params(axis='y', right=False, labelright=True, labelsize=13, colors=TICK_TXT, pad=56, length=0)
for t in ax.get_yticklabels():
    t.set_ha('right')

vol.set_yticks([0, 1, 2])
vol.set_yticklabels(['', '1.00M', ''])
vol.tick_params(axis='y', right=False, labelright=True, labelsize=13, colors=TICK_TXT, pad=50, length=0)
for t in vol.get_yticklabels():
    t.set_ha('right')
vol.tick_params(axis='x', bottom=True, length=6, color=GRID, width=1.3, labelbottom=True,
                labelsize=13, labelcolor=TICK_TXT, pad=4.5)
vol.set_xticklabels(date_labels)
vol.text(-10, -.42, 'Aug 4', ha='center', va='center', fontsize=13, color=TICK_TXT, clip_on=False)

vol.bar(vol_up_x, vol_up, width=.68, color='#00b04f', zorder=2)
vol.bar(vol_down_x, vol_down, width=.68, color='#f44322', zorder=2)
vol.plot(vol_avg_x, vol_avg, color=PURPLE, lw=2.2, zorder=3, solid_joinstyle='round')


def fat(color):
    # tag labels are semi bold, the font has no such weight here
    return [pe.withStroke(linewidth=.7, foreground=color)]


# last value tags on the price axis, later ones cover earlier ones
tags = [(7.98, '', '#ff0022', 'white'), (7.82, '7.82%', '#1f9d49', 'white'), (0.0, '0.00%', '#808080', 'white'),
        (1.07, '1.07%', '#1f9d49', 'white'), (4.38, '4.38%', '#ff0030', 'white'), (3.57, '3.57%', '#00cc00', 'black'),
        (2.75, '2.75%', '#007fc7', 'white'), (0.53, '0.53%', '#399fff', 'white')]
trans = blended_transform_factory(ax.transAxes, ax.transData)
box_w = 76 / 1373
z = 10
for val, label, bg, fg in tags:
    ax.add_patch(Rectangle((1372 / 1373, val - 15.5 / 27.4), box_w, 31 / 27.4, transform=trans, color=bg, lw=0,
                           clip_on=False, zorder=z))
    ax.text(1441 / 1373, val, label, transform=trans, ha='right', va='center_baseline', color=fg, fontsize=13.2,
            zorder=z + .1, clip_on=False, path_effects=fat(fg))
    z += 1
trans_v = blended_transform_factory(vol.transAxes, vol.transData)
for val, label, bg in [(1.87, '1.87M', '#b945cf'), (.11, '0.11M', '#00b04f')]:
    vol.add_patch(Rectangle((1372 / 1373, val - 15.5 / 68.5), box_w, 31 / 68.5, transform=trans_v, color=bg, lw=0,
                            clip_on=False, zorder=10))
    vol.text(1441 / 1373, val, label, transform=trans_v, ha='right', va='center_baseline', color='white', fontsize=13.2,
             zorder=11, clip_on=False, path_effects=fat('white'))

# header text
WHITE = '#f2f2f2'
GRAY = '#8a8a8a'
LBLUE = '#2b8fe8'
line1 = [(8, '03/23/2026 S&P 500 E-Mini (ESM26) [GBLX]', WHITE), (450, 'O', GRAY), (463, '-0.07%', LBLUE), (544, 'H', GRAY),
         (560, '0.73%', LBLUE), (629, 'L', GRAY), (640, '-0.15%', LBLUE), (718, 'C', GRAY), (732, '0.53%', LBLUE),
         (800, 'Δ', GRAY), (816, '-0.15% (-0.22%)', LBLUE), (979, 'NQM26', WHITE), (1064, '0.21%', GREEN),
         (1131, 'YMM26', WHITE), (1216, '1.07%', GREEN)]
line2 = [(8, 'QRM26', WHITE), (90, '7.82%', GREEN),
         (157, 'Ichimoku Clouds (9, 26, 52, 26)  (9, 26, 52, ...) [-26, 26, 26, 26]', WHITE), (772, '2.75%', '#0b84d0'),
         (840, '4.38%', '#ff0022'), (916, '6.91%', '#00cc00'), (985, '10.35%', '#ff0022'),
         (1065, 'Plot Line (700)  (700)', WHITE), (1277, '0.00%', '#777777')]
line3 = [(8, 'Volume (LikeMain)  (LikeMain)', WHITE), (318, '110,366', '#00b04f')]
for y_px, parts in [(19, line1), (45, line2), (780, line3)]:
    for x_px, s, c in parts:
        fig.text(x_px / W, 1 - y_px / H, s, color=c, fontsize=15.6, ha='left', va='center', zorder=20)

fig.text(5 / W, 1 - 748 / H, 'barchart', color='#6e6e6e', alpha=.75, fontsize=36, fontweight='bold', ha='left', va='baseline',
         family='Lato', zorder=20)

fig.savefig('out.png', dpi=100, facecolor='black')
